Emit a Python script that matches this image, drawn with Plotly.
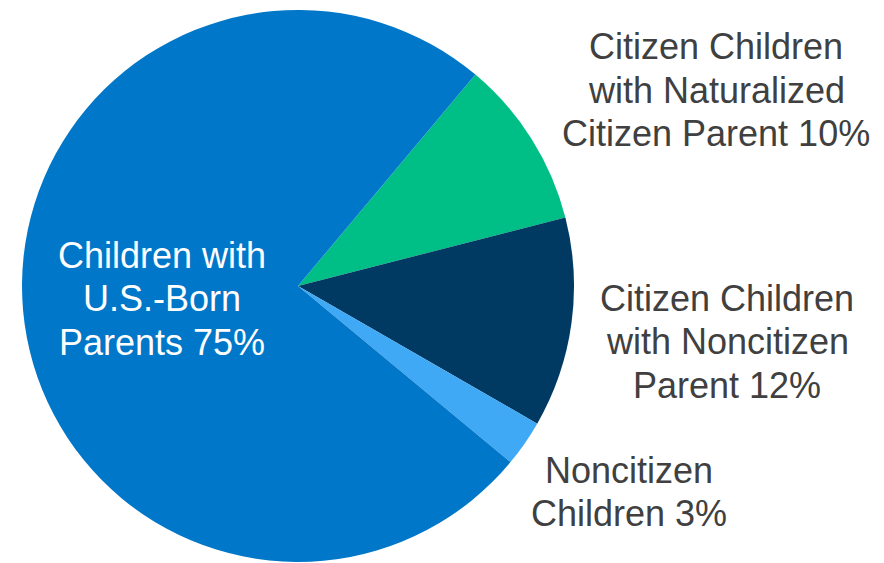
import plotly.graph_objects as go

categories = ["Citizen Children with Naturalized Citizen Parent",
              "Citizen Children with Noncitizen Parent",
              "Noncitizen Children",
              "Children with U.S.-Born Parents"]
values = [9.9, 12.3, 2.7, 75.1]
label_lines = [
    ["Citizen Children", "with Naturalized", "Citizen Parent {v}%"],
    ["Citizen Children", "with Noncitizen", "Parent {v}%"],
    ["Noncitizen", "Children {v}%"],
    ["Children with", "U.S.-Born", "Parents {v}%"],
]
colors = ["#00BF86", "#003A63", "#3FA9F5", "#0077C8"]

W, H = 884, 563
OFF = 8  # page body margin
# label anchor (center x, first line y in page px) and colour per slice
label_pos = [(716, 47), (727, 298), (629, 470), (161.5, 255)]
label_color = ["#404040", "#404040", "#404040", "#FFFFFF"]
line_gap = 43.5

fig = go.Figure(go.Pie(
    labels=categories, values=values, sort=False, direction="clockwise",
    rotation=40, marker=dict(colors=colors, line=dict(width=0)),
    textinfo="none", hoverinfo="label+percent", showlegend=False,
    domain=dict(x=[(22 - OFF) / W, (574 - OFF) / W],
                y=[(H - (562 - OFF)) / H, (H - (10 - OFF)) / H]),
))

annotations = []
for lines, v, (cx, cy), col in zip(label_lines, values, label_pos, label_color):
    for i, ln in enumerate(lines):
        annotations.append(dict(
            x=(cx - OFF) / W, y=1 - (cy - OFF + i * line_gap) / H,
            xref="paper", yref="paper",
            text=ln.format(v=round(v)), showarrow=False,
            xanchor="center", yanchor="middle",
            font=dict(family="Liberation Sans, Arial, sans-serif", size=36, color=col),
        ))

fig.update_layout(
    width=W, height=H, margin=dict(l=0, r=0, t=0, b=0),
    paper_bgcolor="white", plot_bgcolor="white", annotations=annotations,
)
fig.write_html("out.html")
